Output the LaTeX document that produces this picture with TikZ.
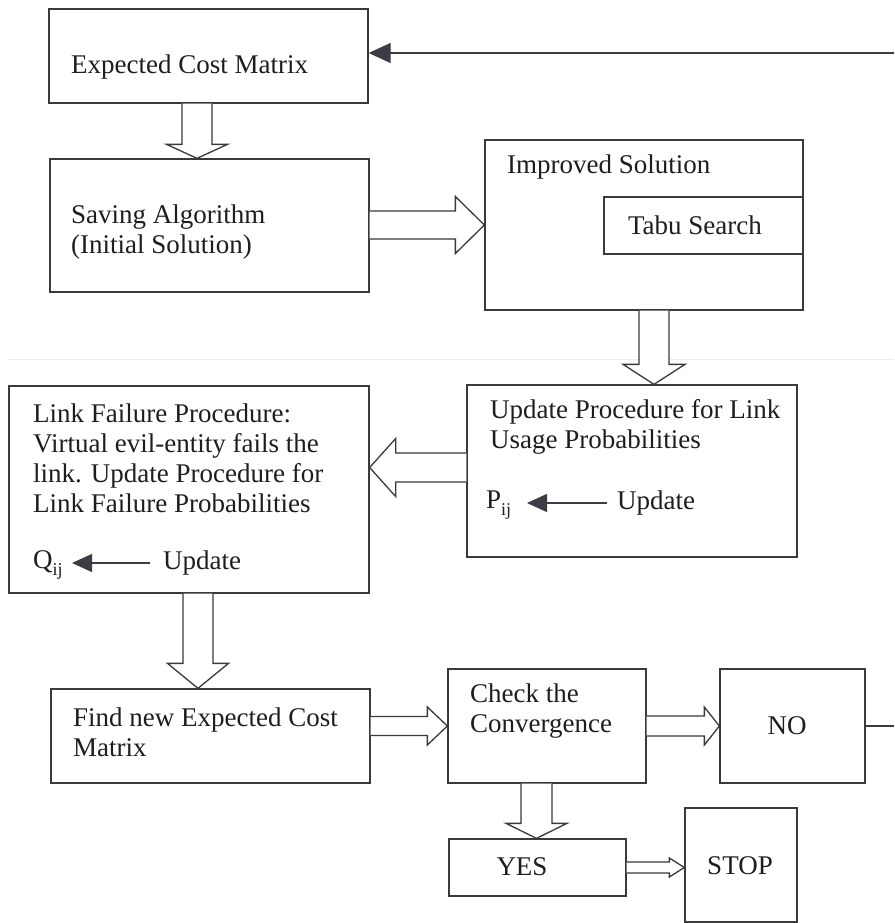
\documentclass[tikz,border=0pt]{standalone}
\usepackage{fontspec}
\setmainfont{Liberation Serif}
\usetikzlibrary{arrows.meta,calc}
\definecolor{ln}{HTML}{3A3A3A}
\definecolor{tx}{HTML}{1E1E1E}
\definecolor{hd}{HTML}{3C3C44}
\tikzset{
  box/.style={draw=ln,line width=1.3pt,inner sep=0pt,fill=white},
  txt/.style={text=tx,inner sep=0pt,font=\fontsize{27}{30}\selectfont,align=left},
  hol/.style={draw=ln,line width=1.3pt,fill=white,line join=miter},
  fa/.style={draw=hd,line width=1.3pt,-{Triangle[length=22pt,width=20pt]}},
  sa/.style={draw=hd,line width=1.3pt,-{Triangle[length=20pt,width=18pt]}}
}
% vertical hollow arrow: from node, to node, x centre, shaft half, head half, head length
\newcommand\hdown[6]{%
  \draw[hol] let \p1=(#1.south), \p2=(#2.north) in
   ({(#3-#4)*1pt},\y1) -- ({(#3-#4)*1pt},{\y2+#6pt}) -- ({(#3-#5)*1pt},{\y2+#6pt})
   -- ({#3*1pt},\y2) -- ({(#3+#5)*1pt},{\y2+#6pt}) -- ({(#3+#4)*1pt},{\y2+#6pt})
   -- ({(#3+#4)*1pt},\y1);}
% rightward hollow arrow
\newcommand\hright[6]{%
  \draw[hol] let \p1=(#1.east), \p2=(#2.west) in
   (\x1,{-(#3-#4)*1pt}) -- ({\x2-#6pt},{-(#3-#4)*1pt}) -- ({\x2-#6pt},{-(#3-#5)*1pt})
   -- (\x2,{-#3*1pt}) -- ({\x2-#6pt},{-(#3+#5)*1pt}) -- ({\x2-#6pt},{-(#3+#4)*1pt})
   -- (\x1,{-(#3+#4)*1pt});}
% leftward hollow arrow
\newcommand\hleft[6]{%
  \draw[hol] let \p1=(#1.west), \p2=(#2.east) in
   (\x1,{-(#3-#4)*1pt}) -- ({\x2+#6pt},{-(#3-#4)*1pt}) -- ({\x2+#6pt},{-(#3-#5)*1pt})
   -- (\x2,{-#3*1pt}) -- ({\x2+#6pt},{-(#3+#5)*1pt}) -- ({\x2+#6pt},{-(#3+#4)*1pt})
   -- (\x1,{-(#3+#4)*1pt});}
\begin{document}
\begin{tikzpicture}[x=1pt,y=-1pt]
\useasboundingbox[fill=white] (0,0) rectangle (894,923);
% faint scan line
\draw[black!7,line width=1pt] (8,359) -- (894,359);

% boxes
\node[box,minimum width=319,minimum height=94] (ecm) at (208.5,56) {};
\node[box,minimum width=319,minimum height=133] (sav) at (209.5,225.5) {};
\node[box,minimum width=318,minimum height=170] (imp) at (644,225) {};
\node[box,minimum width=199,minimum height=57] (tabu) at (703.5,225.5) {};
\node[box,minimum width=330,minimum height=172] (upd) at (632,471) {};
\node[box,minimum width=360,minimum height=207] (lfp) at (189,489.5) {};
\node[box,minimum width=319,minimum height=94] (find) at (210.5,736) {};
\node[box,minimum width=198,minimum height=114] (chk) at (547,726) {};
\node[box,minimum width=145,minimum height=114] (no) at (792.5,726) {};
\node[box,minimum width=177,minimum height=57] (yes) at (537.5,867.5) {};
\node[box,minimum width=112,minimum height=114] (stop) at (741,865) {};

% texts
\node[txt,anchor=west] (ecmT) at (71,67) {Expected Cost Matrix};
\node[txt,anchor=west] (savT) at (71,232) {Saving Algorithm\\(Initial Solution)};
\node[txt,anchor=west] (impT) at (507,167) {Improved Solution};
\node[txt] (tabuT) at (695,225) {Tabu Search};
\node[txt,anchor=west] (updT) at (490,427) {Update Procedure for Link\\Usage Probabilities};
\node[txt,anchor=west] (pP) at (486,505) {P\raisebox{-7pt}{\fontsize{18}{18}\selectfont ij}};
\node[txt,anchor=west] (pU) at (617,503) {Update};
\node[txt,anchor=west] (lfpT) at (33,458) {Link Failure Procedure:\\Virtual evil-entity fails the\\link. Update Procedure for\\Link Failure Probabilities};
\node[txt,anchor=west] (qQ) at (33,565) {Q\raisebox{-7pt}{\fontsize{18}{18}\selectfont ij}};
\node[txt,anchor=west] (qU) at (163,563) {Update};
\node[txt,anchor=west] (findT) at (73,732) {Find new Expected Cost\\Matrix};
\node[txt,anchor=west] (chkT) at (470,711) {Check the\\Convergence};
\node[txt] (noT) at (787,726) {NO};
\node[txt] (yesT) at (522,867) {YES};
\node[txt] (stopT) at (740,866) {STOP};

% feedback line
\coordinate (fbR) at (894,53);
\coordinate (noR) at (894,726);
\draw[fa] (fbR) -- (ecm.east |- fbR);
\draw[ln,line width=1.3pt] (no.east) -- (noR);

% small update arrows
\coordinate (pa1) at (607,503);
\coordinate (pa2) at (527,503);
\draw[sa] (pa1) -- (pa2);
\coordinate (qa1) at (150,563);
\coordinate (qa2) at (72,563);
\draw[sa] (qa1) -- (qa2);

% hollow arrows
\hdown{ecm}{sav}{197}{15}{30.5}{14}
\hright{sav}{imp}{225}{14}{28.5}{29}
\hdown{imp}{upd}{654}{15}{31}{20}
\hleft{upd}{lfp}{467.5}{14.5}{29}{26}
\hdown{lfp}{find}{198}{15}{30.5}{25}
\hright{find}{chk}{726}{9.5}{19}{20}
\hright{chk}{no}{726}{10}{19}{15}
\hdown{chk}{yes}{536.5}{15.5}{30.5}{15}
\hright{yes}{stop}{867.5}{5.5}{9.5}{15}
\end{tikzpicture}
\end{document}
